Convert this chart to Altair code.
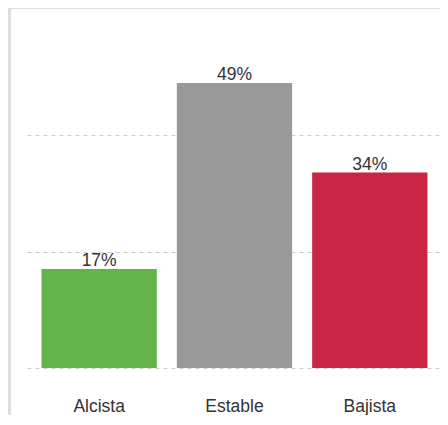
import altair as alt
import pandas as pd

categories = ["Alcista", "Estable", "Bajista"]
values = [17.0, 49.0, 33.6]
labels = ["17%", "49%", "34%"]
colors = ["#62b34a", "#999999", "#c82443"]
grid_values = [0, 20, 40]

df = pd.DataFrame({"cat": categories, "val": values, "label": labels})

W, H = 413, 320
BEIGE = "#e2ddd8"
FONT = "Liberation Sans"

x = alt.X("cat:N", sort=categories, title=None,
          scale=alt.Scale(paddingInner=0.14815, paddingOuter=0.1, align=0.536),
          axis=alt.Axis(labelAngle=0, labelFontSize=17.5, labelColor="#333333",
                        labelFont=FONT, labelPadding=29,
                        ticks=False, domain=False, grid=False))
y = alt.Y("val:Q", title=None, scale=alt.Scale(domain=[0, 55], nice=False),
          axis=alt.Axis(values=grid_values, labels=False, ticks=False, domain=False,
                        grid=True, gridColor="#cccccc", gridDash=[4, 4], gridWidth=1))

strip_left = alt.Chart(df).mark_rect(color=BEIGE).encode(
    x=alt.value(-19), x2=alt.value(-16), y=alt.value(-40), y2=alt.value(H + 60)
)
strip_top = alt.Chart(df).mark_rect(color=BEIGE).encode(
    x=alt.value(-19), x2=alt.value(W + 10), y=alt.value(-40), y2=alt.value(-39)
)

bars = alt.Chart(df).mark_bar(opacity=1).encode(
    x=x, y=y,
    color=alt.Color("cat:N", scale=alt.Scale(domain=categories, range=colors), legend=None),
)

text = alt.Chart(df).mark_text(baseline="alphabetic", dy=-3, fontSize=17.5, color="#333333",
                               font=FONT).encode(
    x=alt.X("cat:N", sort=categories), y="val:Q", text="label:N"
)

chart = alt.layer(strip_left, strip_top, bars, text).properties(
    width=W, height=H,
    autosize=alt.AutoSizeParams(type="none"),
    padding={"left": 19, "top": 40, "right": 0, "bottom": 47},
    background="white",
).configure_view(stroke=None)

chart.save("out.html", embed_options={"renderer": "svg", "actions": False})
